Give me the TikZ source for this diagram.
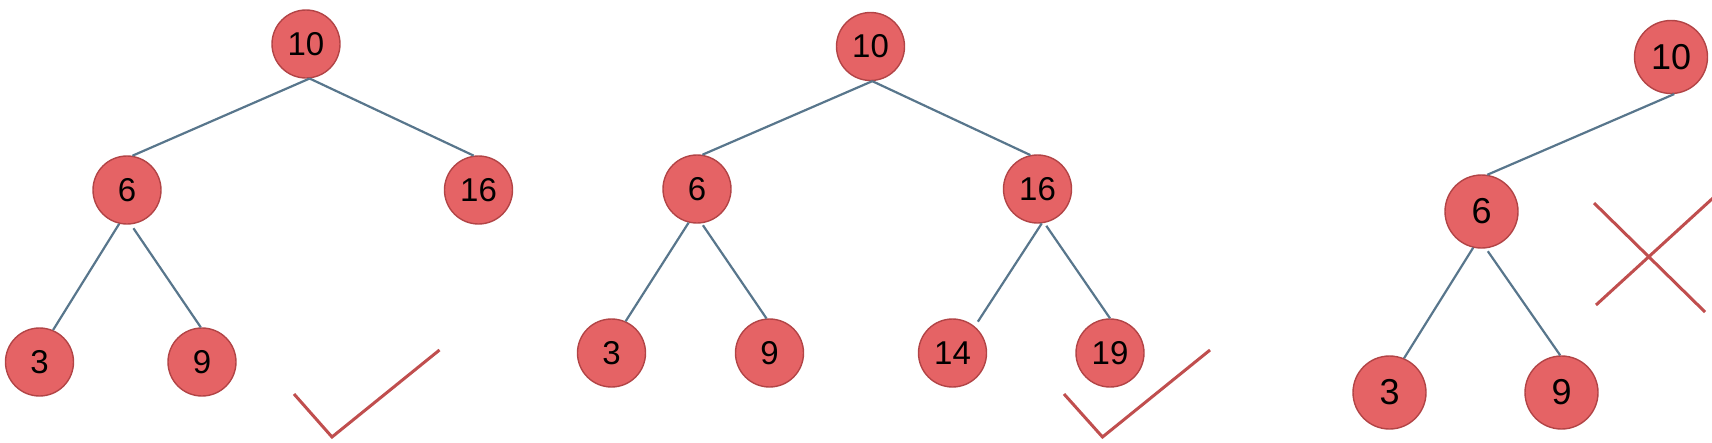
\documentclass[tikz,border=0pt]{standalone}
\usepackage{fontspec}
\setmainfont{Liberation Sans}
\definecolor{nodefill}{RGB}{229,99,101}
\definecolor{nodeborder}{RGB}{178,68,70}
\definecolor{edgecol}{RGB}{88,118,140}
\definecolor{markcol}{RGB}{192,78,78}
\tikzset{
  hnode/.style={circle, draw=nodeborder, fill=nodefill, line width=1.4pt, inner sep=0pt,
    minimum size=68pt, font=\fontsize{33}{33}\selectfont},
  bignode/.style={hnode, minimum size=73pt, font=\fontsize{36}{36}\selectfont},
  treelink/.style={draw=edgecol, line width=2.2pt},
  tickmark/.style={draw=markcol, line width=3pt}
}
\begin{document}
\begin{tikzpicture}[x=1pt,y=-1pt]
\useasboundingbox (0,0) rectangle (1712,442);
% tree 1
\node[hnode] (a10) at (306,44) {10};
\node[hnode] (a6) at (127,190) {6};
\node[hnode] (a16) at (478.5,190) {16};
\node[hnode] (a3) at (39.5,362) {3};
\node[hnode] (a9) at (202,362) {9};
\draw[treelink] (a10.-84) -- (a6.81);
\draw[treelink] (a10.-84) -- (a16.98);
\draw[treelink] (a6.-103) -- (a3.67);
\draw[treelink] ([shift={(1pt,-4pt)}]a6.-81) -- (a9.92);
\coordinate (c1a) at (294,394);
\coordinate (c1b) at (332,437);
\coordinate (c1c) at (439.5,350);
\draw[tickmark] (c1a) -- (c1b) -- (c1c);
% tree 2
\node[hnode] (b10) at (870.5,46.5) {10};
\node[hnode] (b6) at (697,189) {6};
\node[hnode] (b16) at (1037.5,189) {16};
\node[hnode] (b3) at (611.5,353) {3};
\node[hnode] (b9) at (769.5,353) {9};
\node[hnode] (b14) at (952.5,353) {14};
\node[hnode] (b19) at (1110,353) {19};
\draw[treelink] (b10.-87) -- (b6.81);
\draw[treelink] (b10.-87) -- (b16.102);
\draw[treelink] (b6.-104) -- (b3.66);
\draw[treelink] ([shift={(0.5pt,-2pt)}]b6.-81) -- (b9.95);
\draw[treelink] (b16.-83) -- ([shift={(4pt,4pt)}]b14.52);
\draw[treelink] ([shift={(1pt,-3pt)}]b16.-77) -- (b19.90);
\coordinate (c2a) at (1064,394);
\coordinate (c2b) at (1102.5,437);
\coordinate (c2c) at (1210,350);
\draw[tickmark] (c2a) -- (c2b) -- (c2c);
% tree 3
\node[bignode] (c10) at (1671,57) {10};
\node[bignode] (c6) at (1481.5,211.5) {6};
\node[bignode] (c3) at (1389.5,392.5) {3};
\node[bignode] (c9) at (1561.5,392.5) {9};
\draw[treelink] (c10.-85) -- (c6.81);
\draw[treelink] (c6.-103) -- (c3.67);
\draw[treelink] ([shift={(0.5pt,-3pt)}]c6.-81) -- (c9.92);
\coordinate (x1a) at (1594,203);
\coordinate (x1b) at (1705,312);
\coordinate (x2a) at (1596,305);
\coordinate (x2b) at (1713,198);
\draw[tickmark] (x1a) -- (x1b);
\draw[tickmark] (x2a) -- (x2b);
\end{tikzpicture}
\end{document}
